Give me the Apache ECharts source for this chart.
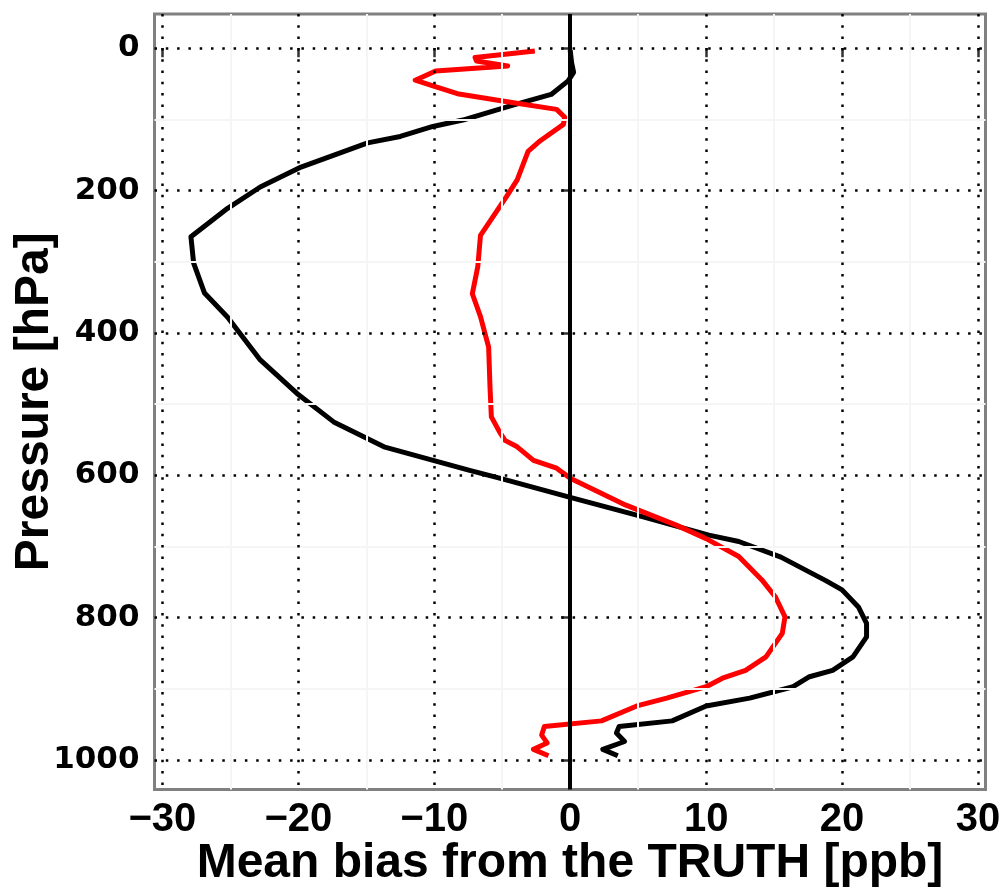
<!DOCTYPE html>
<html>
<head>
<meta charset="utf-8">
<script src="https://cdn.jsdelivr.net/npm/echarts@6/dist/echarts.min.js"></script>
<style>
  html, body { margin: 0; padding: 0; background: #fff; }
  #plotContainer { width: 1004px; height: 892px; }
</style>
</head>
<body>
<div id="plotContainer"></div>
<script>
// profiles: mean bias vs pressure
const blackPressure = [3, 20, 34, 46, 65, 81, 101, 110, 124, 133, 167, 195, 225, 265, 302, 344, 378, 438, 485, 525, 560, 593, 604, 631, 658, 684, 693, 715, 748, 761, 785, 808, 827, 855, 874, 883, 897, 913, 924, 945, 953, 962, 974, 985, 994];
const blackBias = [0.0, 0.1, 0.25, -0.15, -1.4, -4.4, -7.9, -10.1, -12.5, -14.9, -19.8, -22.8, -25.2, -27.9, -27.7, -26.9, -25.2, -22.8, -20.1, -17.4, -13.7, -7.4, -5.2, 0.0, 5.3, 10.2, 12.4, 15.5, 18.8, 20.0, 21.2, 21.8, 21.8, 20.8, 19.3, 17.6, 16.4, 13.2, 10.0, 7.5, 3.6, 3.4, 4.0, 2.4, 3.5];

const redPressure = [4, 13, 18, 25, 32, 45, 53, 64, 76, 86, 97, 107, 130, 145, 185, 209, 263, 307, 345, 377, 420, 476, 518, 539, 551, 560, 579, 590, 604, 642, 670, 689, 714, 747, 771, 799, 822, 855, 874, 885, 897, 913, 924, 945, 953, 965, 976, 985, 994];
const redBias = [-2.6, -7.0, -6.9, -4.6, -9.9, -11.4, -10.1, -8.3, -4.4, -1.0, -0.4, -0.5, -2.2, -3.1, -3.9, -4.7, -6.6, -6.8, -7.2, -6.6, -6.0, -5.9, -5.8, -5.2, -4.8, -3.9, -2.7, -1.0, 0.0, 4.1, 7.8, 10.0, 12.4, 14.1, 15.1, 15.8, 15.6, 14.4, 12.9, 11.2, 10.0, 7.1, 4.9, 2.3, -1.9, -2.1, -1.7, -2.7, -1.6];

// ticks and grid positions
const xTicks = [-30, -20, -10, 0, 10, 20, 30];
const yTicks = [0, 200, 400, 600, 800, 1000];
const xMinor = [-25, -15, -5, 5, 15, 25];
const yMinor = [100, 300, 500, 700, 900];

const chartDom = document.getElementById('plotContainer');
const myChart = echarts.init(chartDom);

const pairs = (xs, ps) => xs.map((v, i) => [v, ps[i]]);
const dotted = { color: '#000', width: 2.5, type: [2.5, 8.8], cap: 'butt' };
const minorStyle = { color: '#f5f5f5', width: 2, type: 'solid' };

const gridMarks = [];
xMinor.forEach(v => gridMarks.push({ xAxis: v, lineStyle: minorStyle }));
yMinor.forEach(v => gridMarks.push({ yAxis: v, lineStyle: minorStyle }));
xTicks.forEach(v => gridMarks.push({ xAxis: v, lineStyle: dotted }));
yTicks.forEach(v => gridMarks.push({ yAxis: v, lineStyle: dotted }));

const option = {
  animation: false,
  backgroundColor: '#fff',
  grid: {
    left: 154.5, top: 14, width: 831, height: 775.5,
    containLabel: false,
    outerBoundsMode: 'none',
    show: true, borderColor: '#808080', borderWidth: 3, backgroundColor: 'transparent'
  },
  xAxis: {
    type: 'value',
    min: -30.58, max: 30.55,
    name: 'Mean bias from the TRUTH [ppb]',
    nameLocation: 'middle',
    nameGap: 50,
    nameMoveOverlap: false,
    nameTextStyle: { fontFamily: 'Liberation Sans', fontWeight: 'bold', fontSize: 48, color: '#000' },
    axisLine: { show: false },
    axisTick: { show: true, customValues: xTicks, length: 9, lineStyle: { color: '#333', width: 2.5 } },
    axisLabel: {
      customValues: xTicks,
      margin: 10,
      fontFamily: 'Liberation Sans', fontWeight: 'bold', fontSize: 40, color: '#000',
      formatter: v => String(v).replace('-', '\u2212')
    },
    splitLine: { show: false }
  },
  yAxis: {
    type: 'value',
    inverse: true,
    min: -48, max: 1041.4,
    name: 'Pressure [hPa]',
    nameLocation: 'middle',
    nameGap: 96,
    nameRotate: 90,
    nameMoveOverlap: false,
    nameTextStyle: { fontFamily: 'Liberation Sans', fontWeight: 'bold', fontSize: 48, color: '#000' },
    axisLine: { show: false },
    axisTick: { show: true, customValues: yTicks, length: 9, lineStyle: { color: '#333', width: 2.5 } },
    axisLabel: {
      customValues: yTicks,
      margin: 15,
      fontFamily: 'DejaVu Sans', fontWeight: 'bold', fontSize: 31, color: '#000',
      formatter: v => String(v)
    },
    splitLine: { show: false }
  },
  series: [
    {
      name: 'grid',
      type: 'line',
      data: [],
      z: 1,
      silent: true,
      markLine: {
        silent: true, symbol: 'none', label: { show: false },
        animation: false,
        data: gridMarks
      }
    },
    {
      name: 'black',
      type: 'line',
      data: pairs(blackBias, blackPressure),
      symbol: 'none',
      z: 3,
      lineStyle: { color: '#000', width: 5, join: 'round' }
    },
    {
      name: 'red',
      type: 'line',
      data: pairs(redBias, redPressure),
      symbol: 'none',
      z: 3,
      lineStyle: { color: '#ff0000', width: 5, join: 'round' }
    },
    {
      name: 'zero',
      type: 'line',
      data: [],
      z: 4,
      silent: true,
      markLine: {
        silent: true, symbol: 'none', label: { show: false },
        animation: false,
        data: [{ xAxis: 0, lineStyle: { color: '#000', width: 4, type: 'solid' } }]
      }
    }
  ]
};

option && myChart.setOption(option);
window.onresize = () => {
  myChart.resize();
};
</script>
</body>
</html>
